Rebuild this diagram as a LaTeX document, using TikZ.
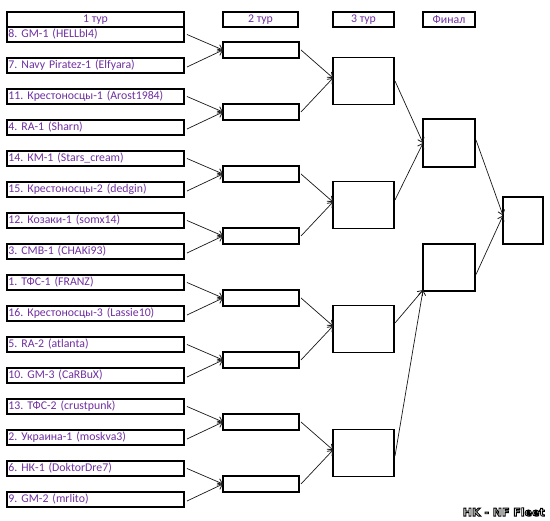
\documentclass[tikz,border=0pt]{standalone}
\usepackage{fontspec}
\setmainfont{Carlito}
\newfontfamily\wmfont{DejaVu Sans}
\usetikzlibrary{arrows.meta}
\definecolor{teamtxt}{HTML}{7030A0}
\newcommand{\outlinetext}[1]{\textcolor{white}{\special{pdf:code 2 Tr 0.9 w 0 0 0 RG}#1\special{pdf:code 0 Tr}}}
\tikzset{
  box/.style={draw=black, line width=1.8pt, inner sep=0pt, outer sep=0pt, fill=white},
  teambox/.style={box, anchor=west, minimum height=15pt, text width=174pt, inner xsep=1.5pt, align=left,
     font=\fontsize{11.8}{13}\selectfont, text=teamtxt},
  headbox/.style={box, anchor=north west, minimum height=15pt, font=\fontsize{11.8}{13}\selectfont, text=teamtxt},
  emptybox/.style={box, anchor=north west},
  conn/.style={draw=black!90, line width=0.7pt, -{Straight Barb[length=4.5pt,width=7pt,line width=0.8pt]}},
}
\begin{document}
\frenchspacing
\begin{tikzpicture}[x=1pt,y=-1pt]
\useasboundingbox[fill=white] (0,0) rectangle (550,521);
% headers
\node[headbox, minimum width=177pt] (h1) at (7,12) {1 тур};
\node[headbox, minimum width=75pt] (h2) at (223,12) {2 тур};
\node[headbox, minimum width=61pt] (h3) at (333,12) {3 тур};
\node[headbox, minimum width=52pt] (h4) at (423,12) {Финал};
% round 1
\foreach \i/\t in {0/{8. GM-1 (HELLbI4)},1/{7. Navy Piratez-1 (Elfyara)},2/{11. Крестоносцы-1 (Arost1984)},3/{4. RA-1 (Sharn)},
  4/{14. КМ-1 (Stars\_cream)},5/{15. Крестоносцы-2 (dedgin)},6/{12. Козаки-1 (somx14)},7/{3. СМВ-1 (CHAKi93)},
  8/{1. ТФС-1 (FRANZ)},9/{16. Крестоносцы-3 (Lassie10)},10/{5. RA-2 (atlanta)},11/{10. GM-3 (CaRBuX)},
  12/{13. ТФС-2 (crustpunk)},13/{2. Украина-1 (moskva3)},14/{6. НК-1 (DoktorDre7)},15/{9. GM-2 (mrlito)}}
  \node[teambox] (t\i) at (7,{34.5+31*\i}) {\t};
% round 2
\foreach \j in {0,...,7}
  \node[emptybox, minimum width=76pt, minimum height=16pt] (r\j) at (223,{42+62*\j}) {};
% round 3
\foreach \k in {0,...,3}
  \node[emptybox, minimum width=61pt, minimum height=47pt] (s\k) at (333,{57.5+124*\k}) {};
% final
\node[emptybox, minimum width=52pt, minimum height=48pt] (f0) at (423,119) {};
\node[emptybox, minimum width=52pt, minimum height=47pt] (f1) at (423,244) {};
\node[emptybox, minimum width=40pt, minimum height=47pt] (w) at (503,197) {};
% connectors round 1 -> 2
\foreach \j in {0,...,7}{
  \pgfmathtruncatemacro{\a}{2*\j}
  \pgfmathtruncatemacro{\b}{2*\j+1}
  \draw[conn] ([xshift=3pt]t\a.east) -- (r\j.west);
  \draw[conn] ([xshift=3pt,yshift=-1.5pt]t\b.east) -- (r\j.west);
}
% round 2 -> 3
\foreach \k in {0,...,3}{
  \pgfmathtruncatemacro{\a}{2*\k}
  \pgfmathtruncatemacro{\b}{2*\k+1}
  \draw[conn] ([xshift=2pt]r\a.east) -- ([yshift=3pt]s\k.west);
  \draw[conn] ([xshift=2pt]r\b.east) -- ([yshift=3pt]s\k.west);
}
% round 3 -> final
\draw[conn] ([xshift=1pt]s0.east) -- (f0.west);
\draw[conn] ([xshift=1pt,yshift=5pt]s1.east) -- (f0.west);
\draw[conn] ([xshift=1pt,yshift=6pt]s2.east) -- ([yshift=1pt]f1.south west);
\draw[conn] ([xshift=1pt,yshift=-3pt]s3.east) -- ([yshift=1pt]f1.south west);
% final -> winner
\draw[conn] ([xshift=1pt,yshift=3pt]f0.east) -- ([yshift=5pt]w.west);
\draw[conn] ([xshift=1pt,yshift=-7pt]f1.east) -- ([yshift=5pt]w.west);
% watermark
\node[anchor=east, inner sep=0pt, font=\wmfont\bfseries\fontsize{11}{12}\selectfont] (wm) at (545,512)
  {\outlinetext{HK - NF Fleet}};
\end{tikzpicture}
\end{document}
